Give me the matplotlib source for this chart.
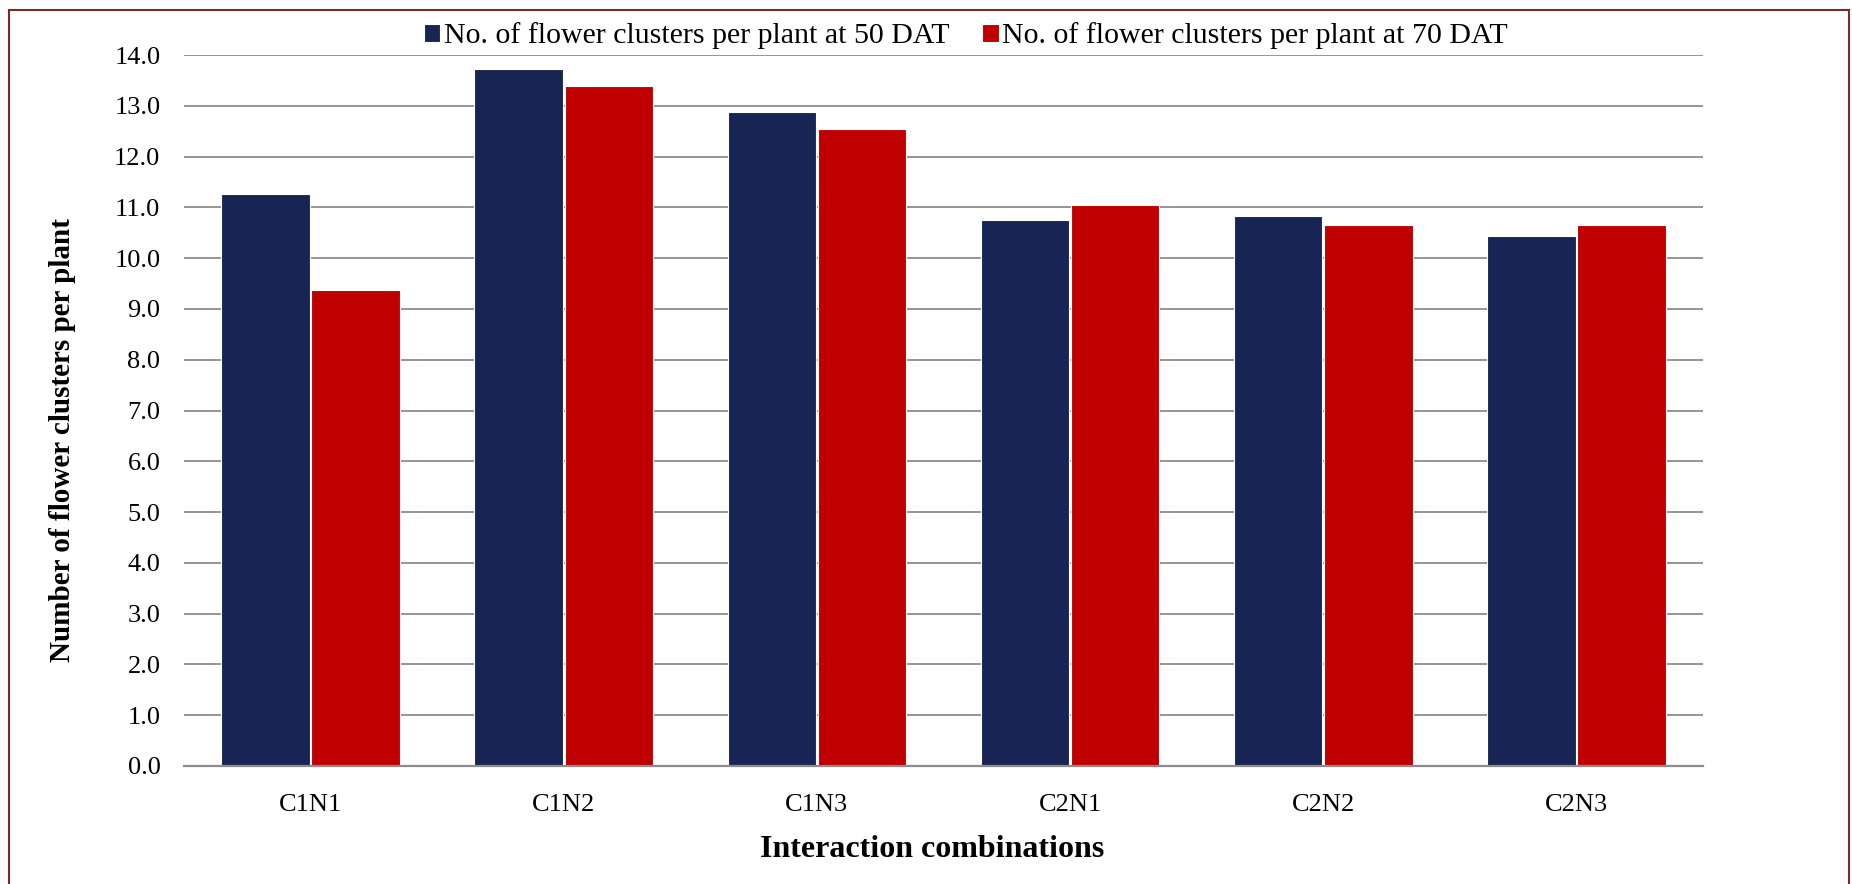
import numpy as np
import matplotlib
matplotlib.use('Agg')
import matplotlib.pyplot as plt
from matplotlib.patches import Rectangle

plt.rcParams['font.family'] = ['Liberation Serif', 'DejaVu Serif']

categories = ['C1N1', 'C1N2', 'C1N3', 'C2N1', 'C2N2', 'C2N3']
dat50      = [11.26, 13.72, 12.87, 10.76, 10.82, 10.43]
dat70      = [9.37, 13.38, 12.54, 11.04, 10.65, 10.65]
labels     = ['No. of flower clusters per plant at 50 DAT',
              'No. of flower clusters per plant at 70 DAT']
colors     = ['#172454', '#c00000']

W, H = 1852, 884
fig = plt.figure(figsize=(W / 100, H / 100), dpi=100)
ax  = fig.add_axes([184 / W, 1 - 766 / H, (1703 - 184) / W, (766 - 55) / H])

x     = np.arange(len(categories))
width = 0.35
for off, vals, col, lab in zip([-0.5, 0.5], [dat50, dat70], colors, labels):
    ax.bar(x + off * width + off * 0.006, vals, width, color=col, label=lab,
           edgecolor='white', linewidth=0.8, zorder=3)

ax.set_xlim(-0.5, len(categories) - 0.5)
ax.set_ylim(0, 14)
ax.set_yticks(np.arange(0, 14.1, 1.0))
ax.set_yticklabels([f'{v:.1f}' for v in np.arange(0, 14.1, 1.0)], fontsize=19)
ax.set_xticks(x)
ax.set_xticklabels(categories, fontsize=19)
ax.tick_params(axis='both', length=0)
ax.tick_params(axis='y', pad=17)
ax.tick_params(axis='x', pad=20)
ax.grid(axis='y', color='#8c8c8c', linewidth=1.3, zorder=0)
for s in ['top', 'right', 'left']:
    ax.spines[s].set_visible(False)
ax.spines['bottom'].set_color('#8c8c8c')
ax.spines['bottom'].set_linewidth(1.6)
ax.spines['bottom'].set_zorder(4)

ax.set_xlabel('Interaction combinations', fontsize=23, fontweight='bold')
ax.set_ylabel('Number of flower clusters per plant', fontsize=21, fontweight='bold')
ax.xaxis.set_label_coords(0.4925, -0.097)
ax.yaxis.set_label_coords(-0.071, 0.458)

leg = fig.legend(loc='center', bbox_to_anchor=(966 / W, 1 - 36 / H), ncol=2, frameon=False,
                 fontsize=21.5, handlelength=0.55, handleheight=0.55, handletextpad=0.12,
                 columnspacing=1.1, borderaxespad=0)

# dark red frame round the figure
fig.patches.append(Rectangle((9 / W, -0.05), (1849 - 9) / W, 1.05 - 10 / H,
                             transform=fig.transFigure, fill=False,
                             edgecolor='#7b2a2a', linewidth=1.5))

plt.savefig('out.png', dpi=100)
